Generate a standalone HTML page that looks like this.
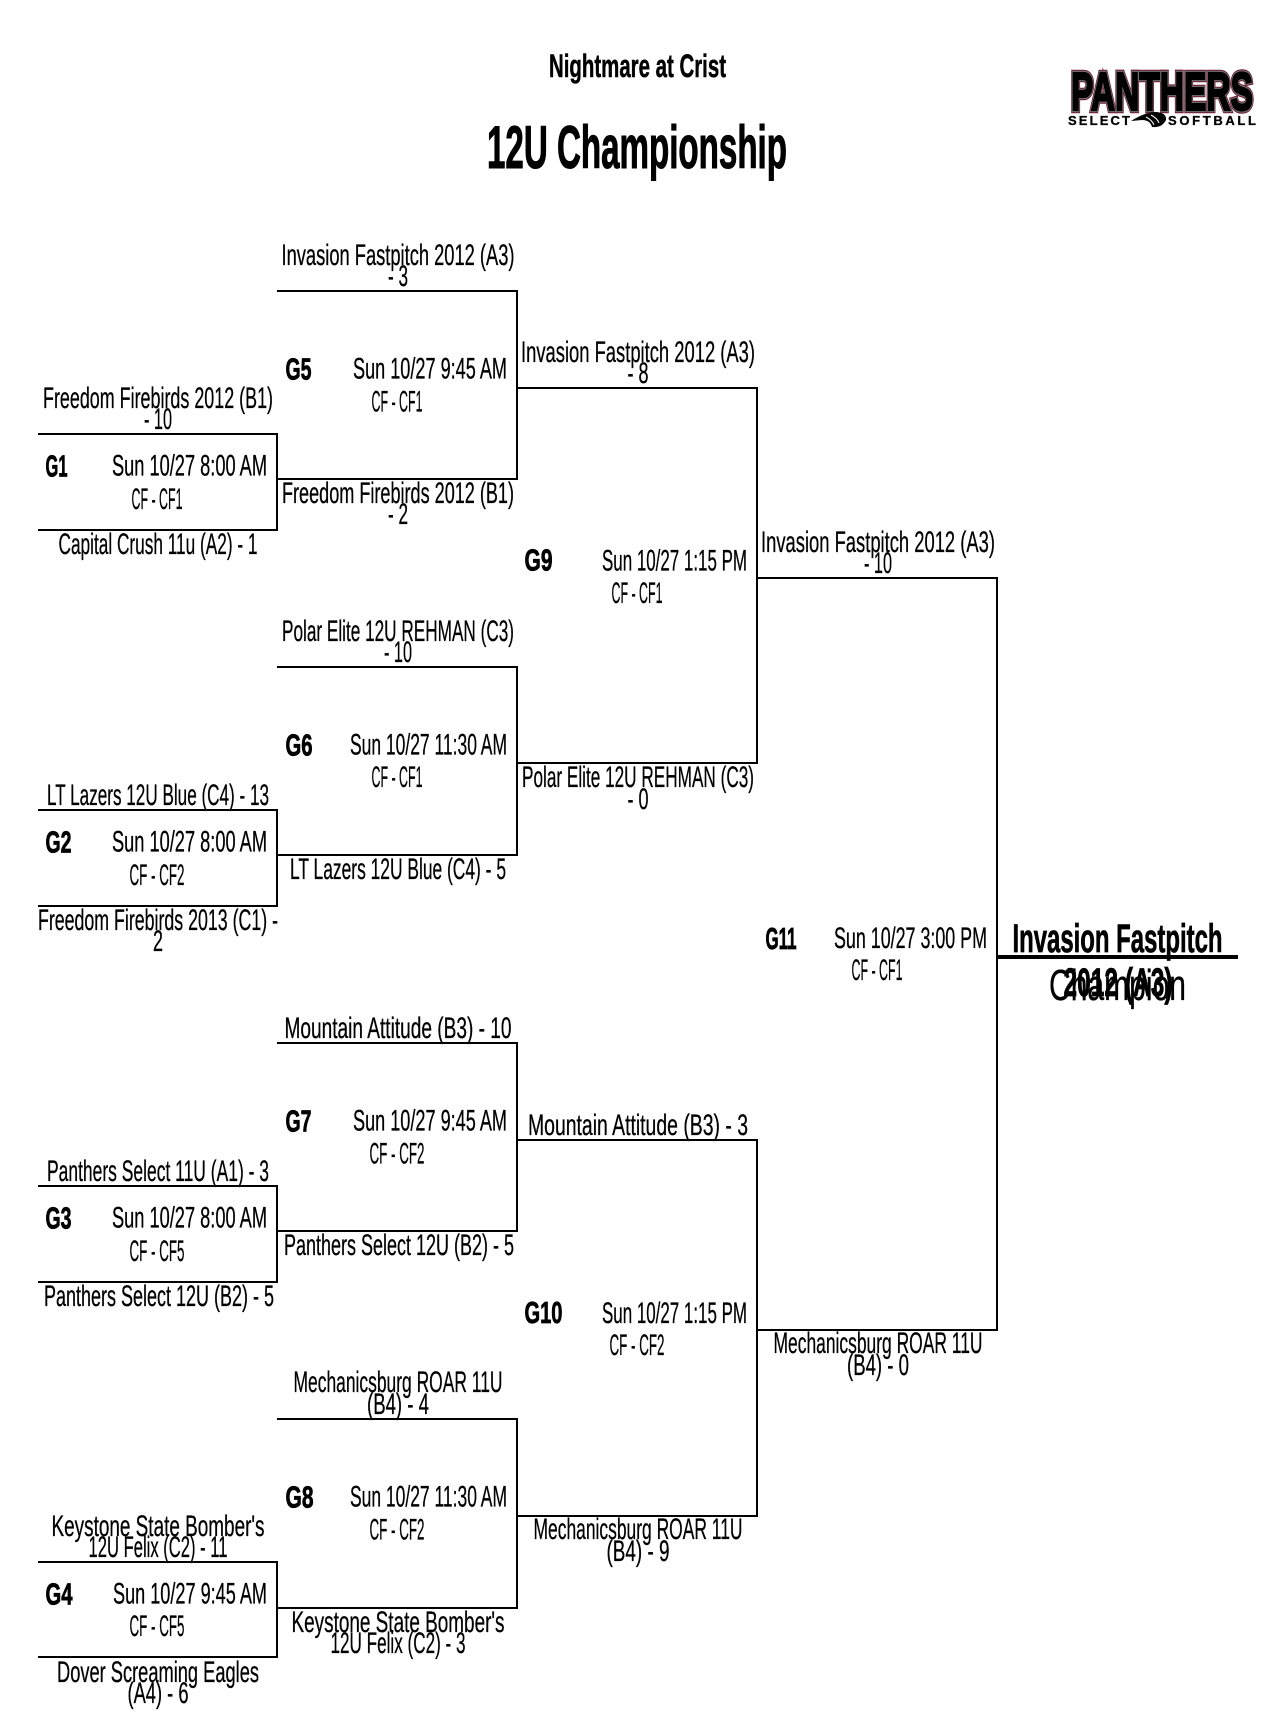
<!DOCTYPE html>
<html lang="en"><head><meta charset="utf-8"><title>12U Championship</title>
<style>
html,body{margin:0;padding:0;background:#fff}
svg{display:block}
text{font-family:"Liberation Sans",Arial,sans-serif;fill:#000;font-size:30px;stroke:#000;stroke-width:.3px}
.m{text-anchor:middle}
.e{text-anchor:end}
.g{font-weight:bold;font-size:31px;stroke-width:.8px}
.l{stroke:#000;stroke-width:2;fill:none;shape-rendering:crispEdges}
</style></head><body>
<svg xmlns="http://www.w3.org/2000/svg" width="1272" height="1735" viewBox="0 0 1272 1735">
<rect width="1272" height="1735" fill="#fff"/>
<text class="m" x="637.5" y="77" textLength="177" lengthAdjust="spacingAndGlyphs" style="font-size:32px;font-weight:bold;stroke-width:.5px">Nightmare at Crist</text>
<text class="m" x="637" y="168" textLength="300" lengthAdjust="spacingAndGlyphs" style="font-size:60px;font-weight:bold;stroke-width:1.1px">12U Championship</text>

<g aria-hidden="true">
<text x="1071" y="110" textLength="182" lengthAdjust="spacingAndGlyphs" style="font-size:54px;font-weight:bold;fill:#6e1f35;stroke:#6e1f35;stroke-width:6.5px;stroke-linejoin:miter">PANTHERS</text>
<text x="1071" y="110" textLength="182" lengthAdjust="spacingAndGlyphs" style="font-size:54px;font-weight:bold;fill:#777;stroke:#777;stroke-width:4.2px;stroke-linejoin:miter">PANTHERS</text>
</g>
<text x="1071" y="110" textLength="182" lengthAdjust="spacingAndGlyphs" style="font-size:54px;font-weight:bold;stroke-width:2.2px;stroke-linejoin:miter">PANTHERS</text>
<text x="1068" y="125" textLength="62" style="font-size:13px;font-weight:bold">SELECT</text>
<text x="1168" y="125" textLength="88" style="font-size:13px;font-weight:bold">SOFTBALL</text>
<path d="M1131 121 Q1145 112 1156 112 Q1167 113 1166 120 Q1162 128 1152 127 Q1150 120 1142 120 Z" fill="#000"/>
<path d="M1146 117 Q1152 120 1154 125 M1151 115 Q1157 118 1159 123" stroke="#fff" stroke-width="1" fill="none"/>

<!-- connectors -->
<path class="l" d="M38 434H277V530H38"/>
<path class="l" d="M38 810H277V906H38"/>
<path class="l" d="M38 1186H277V1282H38"/>
<path class="l" d="M38 1562H277V1657H38"/>
<path class="l" d="M277 291H517V479H277"/>
<path class="l" d="M277 667H517V855H277"/>
<path class="l" d="M277 1043H517V1231H277"/>
<path class="l" d="M277 1419H517V1608H277"/>
<path class="l" d="M517 388H757V763H517"/>
<path class="l" d="M517 1140H757V1516H517"/>
<path class="l" d="M757 578H997V1330H757"/>
<rect x="997" y="955" width="241" height="4" fill="#000"/>

<!-- column 1 teams -->
<text class="m" x="158" y="408" textLength="230" lengthAdjust="spacingAndGlyphs">Freedom Firebirds 2012 (B1)</text>
<text class="m" x="158" y="429" textLength="28" lengthAdjust="spacingAndGlyphs">- 10</text>
<text class="m" x="158" y="554" textLength="199" lengthAdjust="spacingAndGlyphs">Capital Crush 11u (A2) - 1</text>
<text class="m" x="158" y="805" textLength="222" lengthAdjust="spacingAndGlyphs">LT Lazers 12U Blue (C4) - 13</text>
<text class="m" x="158" y="930" textLength="240" lengthAdjust="spacingAndGlyphs">Freedom Firebirds 2013 (C1) -</text>
<text class="m" x="158" y="951" textLength="10" lengthAdjust="spacingAndGlyphs">2</text>
<text class="m" x="158" y="1181" textLength="222" lengthAdjust="spacingAndGlyphs">Panthers Select 11U (A1) - 3</text>
<text class="m" x="159" y="1306" textLength="230" lengthAdjust="spacingAndGlyphs">Panthers Select 12U (B2) - 5</text>
<text class="m" x="158" y="1536" textLength="213" lengthAdjust="spacingAndGlyphs">Keystone State Bomber's</text>
<text class="m" x="158" y="1557" textLength="139" lengthAdjust="spacingAndGlyphs">12U Felix (C2) - 11</text>
<text class="m" x="158" y="1682" textLength="202" lengthAdjust="spacingAndGlyphs">Dover Screaming Eagles</text>
<text class="m" x="158" y="1703" textLength="61" lengthAdjust="spacingAndGlyphs">(A4) - 6</text>

<!-- column 2 teams -->
<text class="m" x="398" y="265" textLength="233" lengthAdjust="spacingAndGlyphs">Invasion Fastpitch 2012 (A3)</text>
<text class="m" x="398" y="286" textLength="20" lengthAdjust="spacingAndGlyphs">- 3</text>
<text class="m" x="398" y="503" textLength="232" lengthAdjust="spacingAndGlyphs">Freedom Firebirds 2012 (B1)</text>
<text class="m" x="398" y="524" textLength="20" lengthAdjust="spacingAndGlyphs">- 2</text>
<text class="m" x="398" y="641" textLength="232" lengthAdjust="spacingAndGlyphs">Polar Elite 12U REHMAN (C3)</text>
<text class="m" x="398" y="662" textLength="28" lengthAdjust="spacingAndGlyphs">- 10</text>
<text class="m" x="398" y="879" textLength="216" lengthAdjust="spacingAndGlyphs">LT Lazers 12U Blue (C4) - 5</text>
<text class="m" x="398" y="1038" textLength="227" lengthAdjust="spacingAndGlyphs">Mountain Attitude (B3) - 10</text>
<text class="m" x="399" y="1255" textLength="230" lengthAdjust="spacingAndGlyphs">Panthers Select 12U (B2) - 5</text>
<text class="m" x="398" y="1392" textLength="209" lengthAdjust="spacingAndGlyphs">Mechanicsburg ROAR 11U</text>
<text class="m" x="398" y="1414" textLength="62" lengthAdjust="spacingAndGlyphs">(B4) - 4</text>
<text class="m" x="398" y="1632" textLength="213" lengthAdjust="spacingAndGlyphs">Keystone State Bomber's</text>
<text class="m" x="398" y="1653" textLength="135" lengthAdjust="spacingAndGlyphs">12U Felix (C2) - 3</text>

<!-- column 3 teams -->
<text class="m" x="638" y="362" textLength="234" lengthAdjust="spacingAndGlyphs">Invasion Fastpitch 2012 (A3)</text>
<text class="m" x="638" y="383" textLength="21" lengthAdjust="spacingAndGlyphs">- 8</text>
<text class="m" x="638" y="787" textLength="232" lengthAdjust="spacingAndGlyphs">Polar Elite 12U REHMAN (C3)</text>
<text class="m" x="638" y="809" textLength="21" lengthAdjust="spacingAndGlyphs">- 0</text>
<text class="m" x="638" y="1135" textLength="220" lengthAdjust="spacingAndGlyphs">Mountain Attitude (B3) - 3</text>
<text class="m" x="638" y="1539" textLength="209" lengthAdjust="spacingAndGlyphs">Mechanicsburg ROAR 11U</text>
<text class="m" x="638" y="1561" textLength="63" lengthAdjust="spacingAndGlyphs">(B4) - 9</text>

<!-- column 4 teams -->
<text class="m" x="878" y="552" textLength="234" lengthAdjust="spacingAndGlyphs">Invasion Fastpitch 2012 (A3)</text>
<text class="m" x="878" y="573" textLength="28" lengthAdjust="spacingAndGlyphs">- 10</text>
<text class="m" x="878" y="1353" textLength="209" lengthAdjust="spacingAndGlyphs">Mechanicsburg ROAR 11U</text>
<text class="m" x="878" y="1375" textLength="62" lengthAdjust="spacingAndGlyphs">(B4) - 0</text>

<!-- games -->
<text class="g" x="45.5" y="476.5" textLength="22" lengthAdjust="spacingAndGlyphs">G1</text>
<text class="e" x="267" y="475.5" textLength="155" lengthAdjust="spacingAndGlyphs">Sun 10/27 8:00 AM</text>
<text class="m" x="157" y="509" textLength="51" lengthAdjust="spacingAndGlyphs">CF - CF1</text>

<text class="g" x="45.5" y="852.5" textLength="26" lengthAdjust="spacingAndGlyphs">G2</text>
<text class="e" x="267" y="851.5" textLength="155" lengthAdjust="spacingAndGlyphs">Sun 10/27 8:00 AM</text>
<text class="m" x="157" y="885" textLength="55" lengthAdjust="spacingAndGlyphs">CF - CF2</text>

<text class="g" x="45.5" y="1228.5" textLength="26" lengthAdjust="spacingAndGlyphs">G3</text>
<text class="e" x="267" y="1227.5" textLength="155" lengthAdjust="spacingAndGlyphs">Sun 10/27 8:00 AM</text>
<text class="m" x="157" y="1261" textLength="55" lengthAdjust="spacingAndGlyphs">CF - CF5</text>

<text class="g" x="45.5" y="1604.5" textLength="27" lengthAdjust="spacingAndGlyphs">G4</text>
<text class="e" x="267" y="1603.5" textLength="154" lengthAdjust="spacingAndGlyphs">Sun 10/27 9:45 AM</text>
<text class="m" x="157" y="1636" textLength="55" lengthAdjust="spacingAndGlyphs">CF - CF5</text>

<text class="g" x="285.5" y="379.5" textLength="26" lengthAdjust="spacingAndGlyphs">G5</text>
<text class="e" x="507" y="378.5" textLength="154" lengthAdjust="spacingAndGlyphs">Sun 10/27 9:45 AM</text>
<text class="m" x="397" y="411.5" textLength="51" lengthAdjust="spacingAndGlyphs">CF - CF1</text>

<text class="g" x="285.5" y="755.5" textLength="27" lengthAdjust="spacingAndGlyphs">G6</text>
<text class="e" x="507" y="754.5" textLength="157" lengthAdjust="spacingAndGlyphs">Sun 10/27 11:30 AM</text>
<text class="m" x="397" y="787" textLength="51" lengthAdjust="spacingAndGlyphs">CF - CF1</text>

<text class="g" x="285.5" y="1131.5" textLength="26" lengthAdjust="spacingAndGlyphs">G7</text>
<text class="e" x="507" y="1130.5" textLength="154" lengthAdjust="spacingAndGlyphs">Sun 10/27 9:45 AM</text>
<text class="m" x="397" y="1163.5" textLength="55" lengthAdjust="spacingAndGlyphs">CF - CF2</text>

<text class="g" x="285.5" y="1507.5" textLength="28" lengthAdjust="spacingAndGlyphs">G8</text>
<text class="e" x="507" y="1506.5" textLength="157" lengthAdjust="spacingAndGlyphs">Sun 10/27 11:30 AM</text>
<text class="m" x="397" y="1539.5" textLength="55" lengthAdjust="spacingAndGlyphs">CF - CF2</text>

<text class="g" x="524.5" y="570.5" textLength="28" lengthAdjust="spacingAndGlyphs">G9</text>
<text class="e" x="747" y="570.5" textLength="145" lengthAdjust="spacingAndGlyphs">Sun 10/27 1:15 PM</text>
<text class="m" x="637" y="603" textLength="51" lengthAdjust="spacingAndGlyphs">CF - CF1</text>

<text class="g" x="524.5" y="1323" textLength="38" lengthAdjust="spacingAndGlyphs">G10</text>
<text class="e" x="747" y="1323" textLength="145" lengthAdjust="spacingAndGlyphs">Sun 10/27 1:15 PM</text>
<text class="m" x="637" y="1355" textLength="55" lengthAdjust="spacingAndGlyphs">CF - CF2</text>

<text class="g" x="765.5" y="949" textLength="31" lengthAdjust="spacingAndGlyphs">G11</text>
<text class="e" x="987" y="948" textLength="153" lengthAdjust="spacingAndGlyphs">Sun 10/27 3:00 PM</text>
<text class="m" x="877" y="980" textLength="51" lengthAdjust="spacingAndGlyphs">CF - CF1</text>

<!-- champion -->
<text class="m" x="1117.5" y="952" textLength="210" lengthAdjust="spacingAndGlyphs" style="font-size:40px;font-weight:bold;stroke-width:.7px">Invasion Fastpitch</text>
<text class="m" x="1118" y="996" textLength="109" lengthAdjust="spacingAndGlyphs" style="font-size:40px;font-weight:bold;stroke-width:.7px">2012 (A3)</text>
<text class="m" x="1117.5" y="1000" textLength="137" lengthAdjust="spacingAndGlyphs" style="font-size:44px">Champion</text>
</svg>
</body></html>
